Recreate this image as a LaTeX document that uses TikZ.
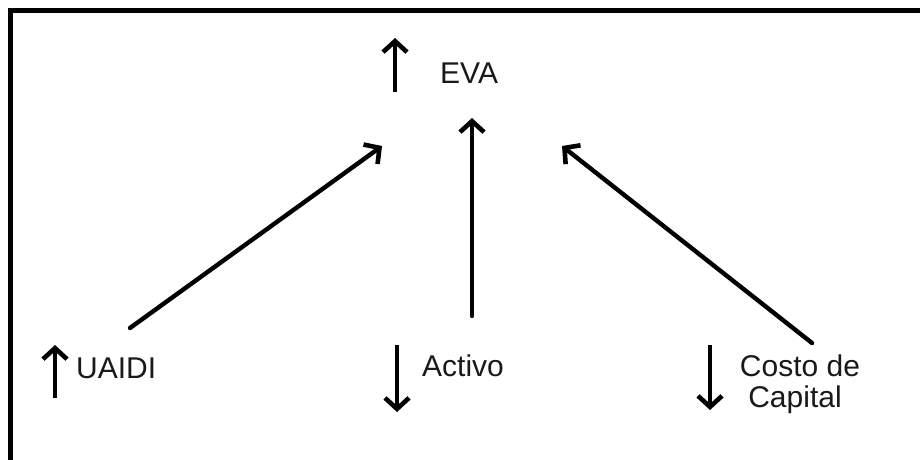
\documentclass[tikz,border=0pt]{standalone}
\usepackage{fontspec}
\setmainfont{Liberation Sans}
\usetikzlibrary{arrows.meta}
\begin{document}
\begin{tikzpicture}[x=1pt,y=-1pt,
  label text/.style={font=\fontsize{30}{31}\selectfont, inner sep=0pt, text=black!90},
  link/.style={line width=4.4pt, line cap=round, -{Straight Barb[length=11pt,width=24pt,line width=4.6pt]}},
  trend/.style={line width=4.4pt, -{Straight Barb[length=11pt,width=24pt,line width=4.6pt]}}]
  \useasboundingbox (0,0) rectangle (920,460);
  % open frame: left and top edges
  \draw[line width=5pt, line join=miter] (10.5,470) -- (10.5,10.5) -- (930,10.5);

  % labels
  \node[label text, anchor=base west] (eva)    at (440,83)  {EVA};
  \node[label text, anchor=base west] (uaidi)  at (76,378)  {UAIDI};
  \node[label text, anchor=base west] (activo) at (422,376) {Activo};
  \node[label text, anchor=base] (costo)   at (800,376) {Costo de};
  \node[label text, anchor=base] (capital) at (795,407) {Capital};

  % trend markers beside each label
  \coordinate (evaLo) at (395,92);   \coordinate (evaHi) at (395,38);
  \coordinate (uaLo)  at (55,398);   \coordinate (uaHi)  at (55,345);
  \coordinate (acHi)  at (397,345);  \coordinate (acLo)  at (397,412);
  \coordinate (coHi)  at (710,345);  \coordinate (coLo)  at (710,410);
  \draw[trend] (evaLo) -- (evaHi);
  \draw[trend] (uaLo) -- (uaHi);
  \draw[trend] (acHi) -- (acLo);
  \draw[trend] (coHi) -- (coLo);

  % influence connectors towards EVA
  \coordinate (uaOut) at (130,328);  \coordinate (uaIn) at (382,146);
  \coordinate (acOut) at (472,316);  \coordinate (acIn) at (472,118);
  \coordinate (coOut) at (812,343);  \coordinate (coIn) at (562,146);
  \draw[link] (uaOut) -- (uaIn);
  \draw[link] (acOut) -- (acIn);
  \draw[link] (coOut) -- (coIn);
\end{tikzpicture}
\end{document}
